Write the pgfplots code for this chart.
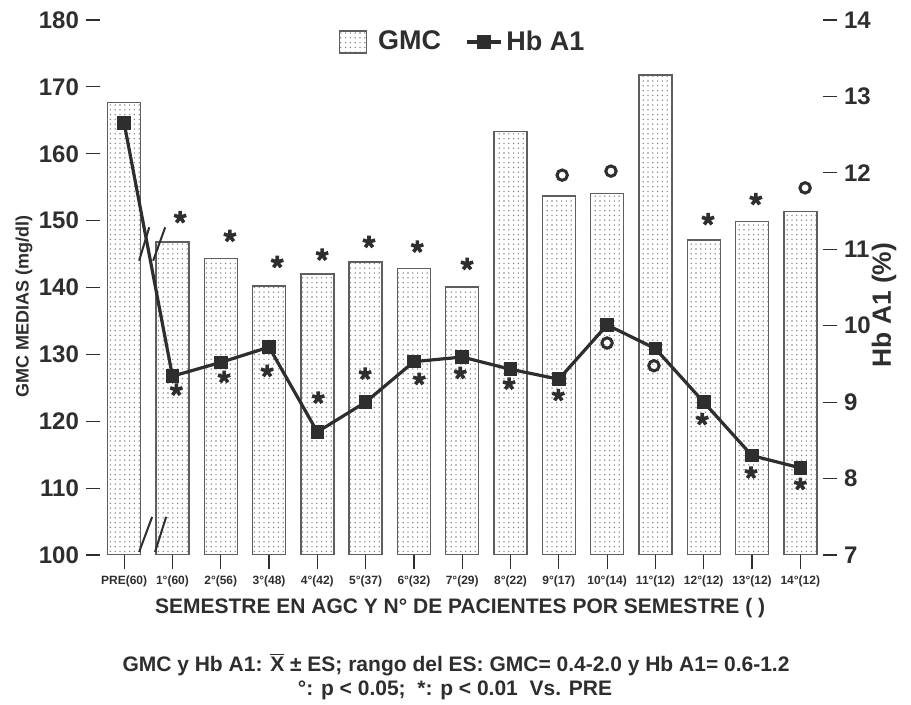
\documentclass[border=0pt]{standalone}
\usepackage{fontspec}
\setmainfont{Liberation Sans}
\usepackage{pgfplots}
\pgfplotsset{compat=1.18}
\usetikzlibrary{patterns.meta}
\definecolor{ink}{HTML}{2E2E2E}
\definecolor{barline}{HTML}{5E5E5E}
\definecolor{dotc}{HTML}{888888}

\pgfplotstableread{
x gmc
0 167.7
1 146.8
2 144.3
3 140.2
4 142.0
5 143.8
6 142.8
7 140.1
8 163.3
9 153.7
10 154.1
11 171.8
12 147.1
13 149.9
14 151.4
}\gmcdata

\pgfplotstableread{
x hba
0 12.65
1 9.34
2 9.52
3 9.72
4 8.61
5 9.00
6 9.53
7 9.59
8 9.43
9 9.30
10 10.01
11 9.70
12 9.00
13 8.30
14 8.14
}\hbadata

\begin{document}
\begin{tikzpicture}
\useasboundingbox (-50pt,-75pt) rectangle (405.5pt,277.5pt);
\begin{axis}[
  at={(0,0)}, anchor=south west,
  scale only axis, width=361.5pt, height=267.5pt,
  xmin=-0.5, xmax=14.47, ymin=100, ymax=180,
  axis x line*=bottom, axis y line*=left,
  axis line style={draw=none},
  tick align=outside, major tick length=7pt,
  tick style={ink, line width=0.6pt},
  /pgf/number format/assume math mode=true,
  xtick={0,...,14},
  xticklabels={PRE(60),1°(60),2°(56),3°(48),4°(42),5°(37),6°(32),7°(29),8°(22),9°(17),10°(14),11°(12),12°(12),13°(12),14°(12)},
  ytick={100,110,...,180},
  yticklabel style={font=\bfseries\fontsize{12}{12}\selectfont, text=ink},
  xticklabel style={font=\bfseries\fontsize{6}{6}\selectfont, text=ink},
  ylabel={GMC MEDIAS (mg/dl)},
  ylabel style={font=\bfseries\fontsize{9}{9}\selectfont, text=ink, at={(rel axis cs:0,0.464)}, anchor=center, yshift=38pt},
  xlabel={SEMESTRE EN AGC Y N° DE PACIENTES POR SEMESTRE ( )},
  xlabel style={font=\bfseries\fontsize{10.5}{10.5}\selectfont, text=ink, at={(rel axis cs:0.498,0)}, anchor=center, yshift=-26.5pt},
]
\addplot[ybar, bar width=16.5pt, draw=barline, line width=0.7pt,
  pattern={Dots[distance=2.4pt, radius=0.4pt]}, pattern color=dotc]
  table[x=x, y=gmc] {\gmcdata};
% stars above bars
\addplot[only marks, mark=star, mark size=3.2pt, ink, line width=1.8pt] coordinates {
 (1.16,150.5) (2.19,147.7) (3.17,143.8) (4.10,144.9) (5.07,146.8) (6.07,146.1) (7.10,143.5)
 (12.09,150.2) (13.08,153.2)};
% stars below line markers
\addplot[only marks, mark=star, mark size=3.2pt, ink, line width=1.8pt] coordinates {
 (1.08,124.7) (2.07,126.6) (2.96,127.5) (4.02,123.5) (4.99,127.1) (6.11,126.3) (6.96,127.2)
 (7.97,125.6) (8.99,123.9) (11.97,120.3) (12.98,112.3) (14.0,110.6)};
% circles
\addplot[only marks, mark=o, mark size=2.6pt, ink, line width=1.5pt] coordinates {
 (9.07,156.8) (10.08,157.4) (14.1,154.9) (10.0,131.7) (10.97,128.3)};
% axis break marks
\draw[ink, line width=1pt] (axis cs:0.31,144.0) -- (axis cs:0.52,149.0);
\draw[ink, line width=1pt] (axis cs:0.60,144.0) -- (axis cs:0.85,149.0);
\draw[ink, line width=1pt] (axis cs:0.31,100.45) -- (axis cs:0.58,105.7);
\draw[ink, line width=1pt] (axis cs:0.64,100.45) -- (axis cs:0.87,105.7);
\end{axis}
\begin{axis}[
  at={(0,0)}, anchor=south west,
  scale only axis, width=361.5pt, height=267.5pt,
  xmin=-0.5, xmax=14.47, ymin=7, ymax=14,
  axis x line=none, axis y line*=right,
  axis line style={draw=none},
  tick align=outside, major tick length=7pt,
  tick style={ink, line width=0.6pt},
  /pgf/number format/assume math mode=true,
  ytick={7,...,14},
  yticklabel style={font=\bfseries\fontsize{12}{12}\selectfont, text=ink},
  ylabel={Hb A1 (\%)},
  ylabel style={font=\bfseries\fontsize{13.2}{13.2}\selectfont, text=ink, at={(rel axis cs:1,0.467)}, anchor=center, yshift=-30.5pt},
  legend style={draw=none, fill=none, at={(rel axis cs:0.503,0.959)}, anchor=center,
    legend columns=2, font=\bfseries\fontsize{13.5}{13.5}\selectfont, text=ink,
    /tikz/every even column/.append style={column sep=10pt}},
]
\addlegendimage{legend image code/.code={\draw[draw=barline, line width=0.7pt, pattern={Dots[distance=2.4pt, radius=0.4pt]}, pattern color=dotc] (0pt,-5.5pt) rectangle (13.5pt,5.5pt); \path (17pt,0pt);}}
\addlegendentry{GMC}
\addplot[ink, line width=1.6pt, mark=square*, mark size=2.6pt] table[x=x, y=hba] {\hbadata};
\addlegendentry{Hb A1}
\end{axis}
\node[font=\bfseries\fontsize{10.5}{10.5}\selectfont, text=ink] at (178pt,-55pt)
  {GMC y Hb A1: $\overline{\mbox{X}}$ ± ES; rango del ES: GMC= 0.4-2.0 y Hb A1= 0.6-1.2};
\node[font=\bfseries\fontsize{10.5}{10.5}\selectfont, text=ink] at (177.5pt,-67.5pt)
  {°: p < 0.05;\ \ *: p < 0.01\ \ Vs. PRE};
\end{tikzpicture}
\end{document}
